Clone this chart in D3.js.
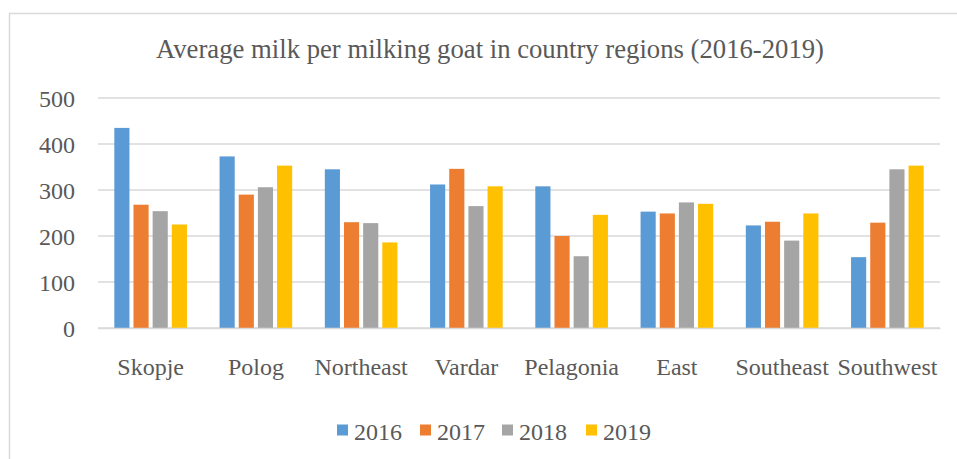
<!DOCTYPE html>
<html>
<head>
<meta charset="utf-8">
<script src="https://cdn.jsdelivr.net/npm/d3@7"></script>
<style>
  html, body { margin: 0; padding: 0; background: #fff; }
  svg { display: block; }
</style>
</head>
<body>
<script>
const categories = ["Skopje", "Polog", "Northeast", "Vardar", "Pelagonia", "East", "Southeast", "Southwest"];
const seriesNames = ["2016", "2017", "2018", "2019"];
const values2016 = [435, 373, 345, 312, 308, 253, 223, 154];
const values2017 = [268, 290, 230, 346, 200, 249, 231, 229];
const values2018 = [254, 306, 228, 265, 156, 273, 190, 345];
const values2019 = [225, 353, 186, 308, 246, 270, 249, 353];
const yTicks = [0, 100, 200, 300, 400, 500];
const colors = ["#5B9BD5", "#ED7D31", "#A5A5A5", "#FFC000"];
const titleText = "Average milk per milking goat in country regions (2016-2019)";

const seriesValues = [values2016, values2017, values2018, values2019];
const W = 957, H = 459;
const FONT = "'Liberation Serif', 'Times New Roman', Times, serif";
const TXT = "#595959";
const margin = { left: 98, right: 17, top: 98, bottom: 131 };

const svg = d3.select("body").append("svg").attr("width", W).attr("height", H)
  .style("font-family", FONT);

// chart frame
svg.append("rect")
  .attr("x", 9.5).attr("y", 13.5)
  .attr("width", W + 20).attr("height", H + 20)
  .attr("fill", "none").attr("stroke", "#d9d9d9").attr("stroke-width", 1.5);

const x0 = d3.scaleBand().domain(categories).range([margin.left, W - margin.right]).paddingInner(0.31).paddingOuter(0.155);
const x1 = d3.scaleBand().domain(seriesNames).range([0, x0.bandwidth()]).paddingInner(0.21);
const y = d3.scaleLinear().domain([0, 500]).range([H - margin.bottom, margin.top]);

// gridlines
svg.append("g").selectAll("line").data(yTicks).join("line")
  .attr("x1", margin.left).attr("x2", W - margin.right)
  .attr("y1", d => y(d)).attr("y2", d => y(d))
  .attr("stroke", "#d9d9d9").attr("stroke-width", 1.5);

// y axis labels
const yAxis = d3.axisLeft(y).tickValues(yTicks).tickSize(0).tickPadding(23);
const gy = svg.append("g").attr("transform", `translate(${margin.left},0)`).call(yAxis);
gy.attr("font-family", null);
gy.select(".domain").remove();
gy.selectAll("text").attr("font-size", 24).style("font-family", FONT).attr("fill", TXT).attr("dy", "0.35em");

// bars
const groups = svg.append("g").selectAll("g").data(categories).join("g")
  .attr("transform", d => `translate(${x0(d)},0)`);
groups.selectAll("rect").data((c, i) => seriesNames.map((s, j) => ({ s, j, v: seriesValues[j][i] }))).join("rect")
  .attr("x", d => x1(d.s)).attr("width", x1.bandwidth())
  .attr("y", d => y(d.v)).attr("height", d => y(0) - y(d.v))
  .attr("fill", d => colors[d.j]);

// x axis
const xCat = d3.scaleBand().domain(categories).range([margin.left, W - margin.right]);
const xAxis = d3.axisBottom(xCat).tickSize(0).tickPadding(30);
const gx = svg.append("g").attr("transform", `translate(0,${y(0)})`).call(xAxis);
gx.attr("font-family", null);
gx.select(".domain").attr("stroke", "#d9d9d9").attr("stroke-width", 1.5);
gx.selectAll("text").attr("font-size", 24).style("font-family", FONT).attr("fill", TXT);

// title
svg.append("text").attr("x", 490).attr("y", 58).attr("text-anchor", "middle")
  .attr("font-size", 26.7).style("font-family", FONT).attr("fill", TXT).text(titleText);

// legend
const legendX = [337, 420, 502, 586];
const lg = svg.append("g").selectAll("g").data(seriesNames).join("g")
  .attr("transform", (d, i) => `translate(${legendX[i]},430)`);
lg.append("rect").attr("x", 0).attr("y", -5.5).attr("width", 11).attr("height", 11).attr("fill", (d, i) => colors[i]);
lg.append("text").attr("x", 17).attr("y", 10).attr("font-size", 24)
  .style("font-family", FONT).attr("fill", TXT).text(d => d);
</script>
</body>
</html>
